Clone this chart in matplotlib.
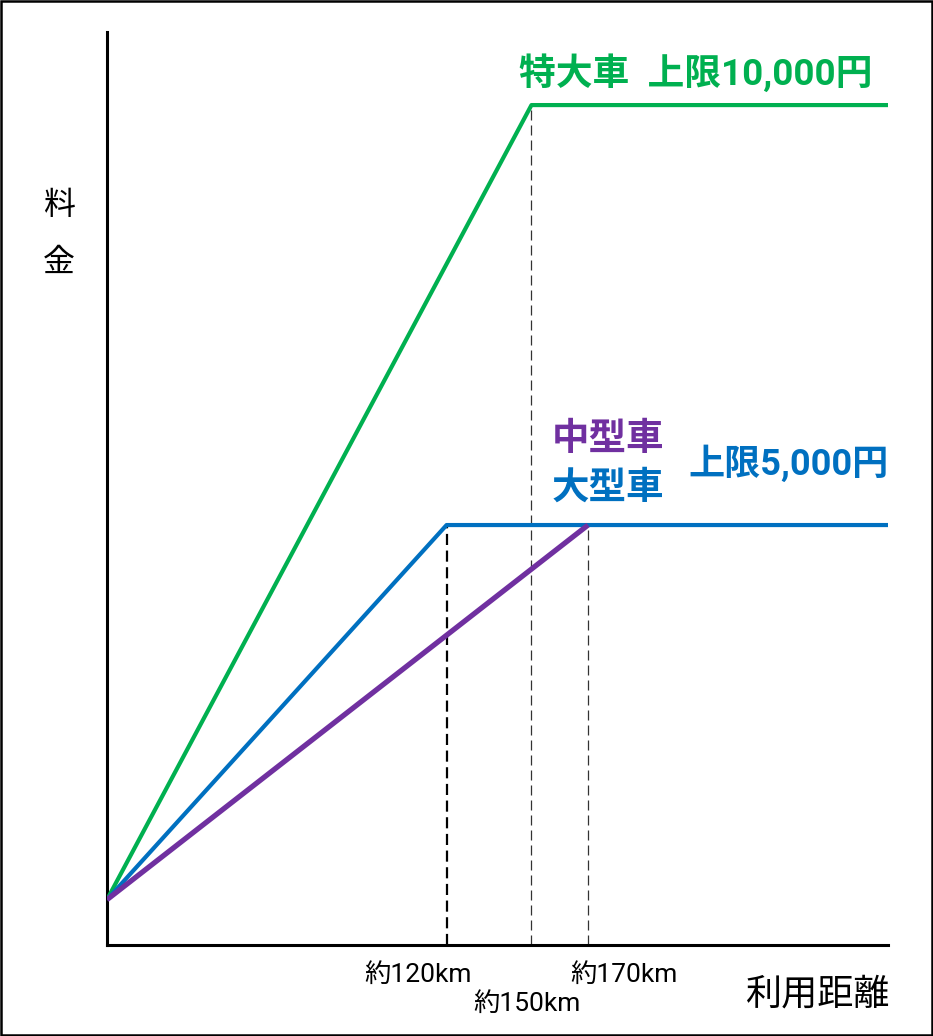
import matplotlib.pyplot as plt
from matplotlib.patches import Rectangle

plt.rcParams['font.family'] = ['Noto Sans CJK JP', 'DejaVu Sans']
mixed = ['Roboto', 'Noto Sans CJK JP']

# 料金のモデル(円) と 利用距離(km)
base_fare = 540
x_max = 276
tokudai_km = [0, 150, x_max]
tokudai_fare = [base_fare, 10000, 10000]
ogata_km = [0, 120, x_max]
ogata_fare = [base_fare, 5000, 5000]
chugata_km = [0, 170]
chugata_fare = [base_fare, 5000]
break_km = [120, 150, 170]
break_fare = [5000, 10000, 5000]
break_labels = ['約120km', '約150km', '約170km']

green = '#00B050'
blue = '#0070C0'
purple = '#7030A0'

fig = plt.figure(figsize=(9.33, 10.36), dpi=100)
ax = fig.add_axes([107/933, 91/1036, 781/933, 913/1036])

# dashed guides
ax.plot([break_km[0]] * 2, [0, break_fare[0]], color='black', lw=1.6, dashes=(5, 2.5), zorder=1)
ax.plot([break_km[1]] * 2, [0, break_fare[1]], color='#333333', lw=0.9, dashes=(8, 4), zorder=1)
ax.plot([break_km[2]] * 2, [0, break_fare[2]], color='#333333', lw=0.9, dashes=(8, 4), zorder=1)

ax.plot(tokudai_km, tokudai_fare, color=green, lw=3.0, solid_capstyle='butt', zorder=3)
ax.plot(ogata_km, ogata_fare, color=blue, lw=3.0, solid_capstyle='butt', zorder=4)
ax.plot(chugata_km, chugata_fare, color=purple, lw=3.8, solid_capstyle='butt', zorder=5)

ax.set_xlim(0, x_max)
ax.set_ylim(0, 10870)
ax.set_xticks([])
ax.set_yticks([])
for s in ['top', 'right']:
    ax.spines[s].set_visible(False)
for s in ['left', 'bottom']:
    ax.spines[s].set_linewidth(2.2)
    ax.spines[s].set_color('black')

# labels
ax.annotate('特大車  上限10,000円', (break_km[1], 10000), xytext=(-9, 9),
            textcoords='offset points', color=green, fontsize=26.5, fontweight='bold',
            ha='left', va='bottom', family=mixed)
ax.annotate('中型車', (170, 5000), xytext=(-26, 48), textcoords='offset points',
            color=purple, fontsize=27, fontweight='bold', ha='left', va='bottom', family=mixed)
ax.annotate('大型車', (170, 5000), xytext=(-26, 13), textcoords='offset points',
            color=blue, fontsize=27, fontweight='bold', ha='left', va='bottom', family=mixed)
ax.annotate('上限5,000円', (170, 5000), xytext=(72, 30), textcoords='offset points',
            color=blue, fontsize=26, fontweight='bold', ha='left', va='bottom', family=mixed)

ax.annotate(break_labels[0], (break_km[0], 0), xytext=(18, -13), textcoords='offset points',
            fontsize=19, ha='right', va='top', family=mixed)
ax.annotate(break_labels[1], (break_km[1], 0), xytext=(-3, -34), textcoords='offset points',
            fontsize=19, ha='center', va='top', family=mixed)
ax.annotate(break_labels[2], (break_km[2], 0), xytext=(-13, -13), textcoords='offset points',
            fontsize=19, ha='left', va='top', family=mixed)

fig.text(890/933, 1 - 995/1036, '利用距離', fontsize=26, ha='right', va='center')
fig.text(59/933, 1 - 205/1036, '料', fontsize=23, ha='center', va='center')
fig.text(59/933, 1 - 263/1036, '金', fontsize=23, ha='center', va='center')

fig.add_artist(Rectangle((0.001, 0.001), 0.998, 0.998, transform=fig.transFigure,
                         fill=False, edgecolor='black', lw=1.8))

fig.savefig('out.png', dpi=100)
